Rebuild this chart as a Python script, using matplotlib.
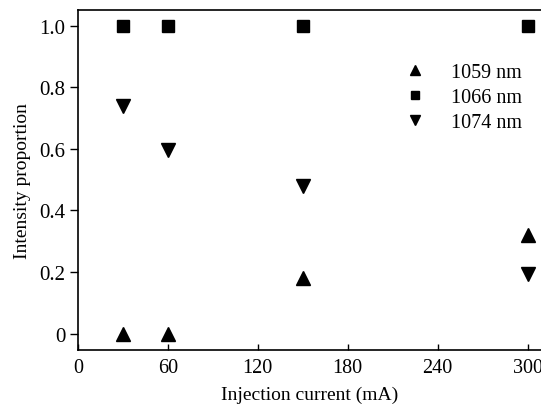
import matplotlib
matplotlib.use("Agg")
import matplotlib.pyplot as plt

current = [30, 60, 150, 300]
p1059 = [0.0, 0.0, 0.18, 0.32]
p1066 = [1.0, 1.0, 1.0, 1.0]
p1074 = [0.74, 0.595, 0.48, 0.195]
xticks = [0, 60, 120, 180, 240, 300]
yticks = [0, 0.2, 0.4, 0.6, 0.8, 1.0]
yticklabels = ["0", "0.2", "0.4", "0.6", "0.8", "1.0"]

plt.rcParams['font.family'] = ['Liberation Serif', 'DejaVu Serif']
fig = plt.figure(figsize=(5.41, 4.10), dpi=100)
ax = fig.add_axes([78/541, 1-351/410, (541-78)/541, (351-11)/410])

ax.plot(current, p1059, linestyle='none', marker='^', color='black', markersize=10, label='1059 nm')
ax.plot(current, p1066, linestyle='none', marker='s', color='black', markersize=8.5, label='1066 nm')
ax.plot(current, p1074, linestyle='none', marker='v', color='black', markersize=10, label='1074 nm')

ax.set_xlim(0, 309)
ax.set_ylim(-0.053, 1.051)
ax.set_xticks(xticks)
ax.set_yticks(yticks)
ax.set_yticklabels(yticklabels)
ax.spines['right'].set_visible(False)
for s in ['left', 'bottom', 'top']:
    ax.spines[s].set_linewidth(1.2)
ax.tick_params(axis='x', direction='in', length=4, width=1, labelsize=14.5, pad=6)
ax.tick_params(axis='y', direction='out', length=6, width=1, labelsize=15, pad=3)
ax.set_xlabel('Injection current (mA)', fontsize=14, labelpad=6)
ax.set_ylabel('Intensity proportion', fontsize=14, labelpad=6)

ax.legend(loc='upper right', bbox_to_anchor=(0.96, 0.845), frameon=False, fontsize=14.5,
          handletextpad=0.8, labelspacing=0.3, markerscale=0.75, borderaxespad=0, borderpad=0)

fig.savefig('out.png', dpi=100)
